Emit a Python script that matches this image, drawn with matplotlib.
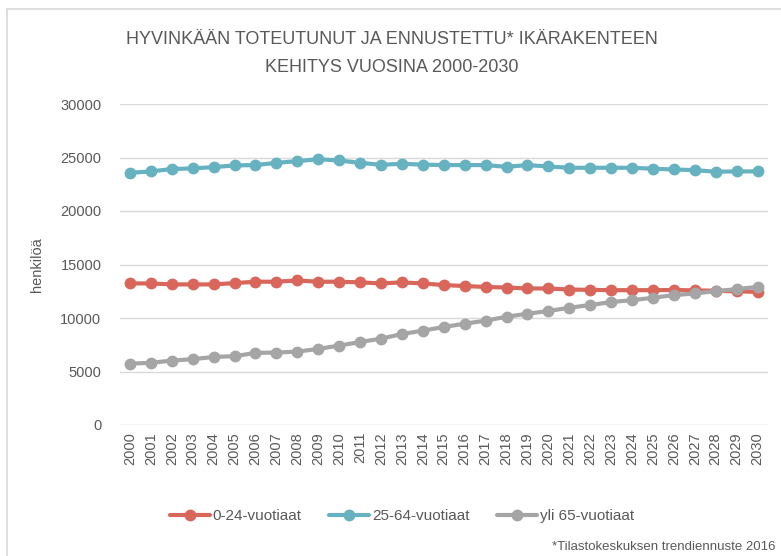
import matplotlib
matplotlib.use("Agg")
import matplotlib.pyplot as plt
from matplotlib.lines import Line2D

# vuodet ja ikäryhmät
vuodet = list(range(2000, 2031))
ika_0_24 = [13230, 13230, 13140, 13140, 13140, 13260, 13390, 13390, 13510, 13390,
            13390, 13330, 13230, 13330, 13230, 13080, 12990, 12900, 12850, 12760,
            12760, 12660, 12630, 12600, 12600, 12600, 12620, 12580, 12550, 12480,
            12450]
ika_25_64 = [23570, 23700, 23920, 23980, 24100, 24260, 24290, 24500, 24660, 24840,
             24720, 24500, 24320, 24410, 24330, 24290, 24290, 24290, 24130, 24290,
             24160, 24040, 24040, 24040, 24040, 23950, 23880, 23820, 23670, 23700,
             23700]
ika_yli_65 = [5740, 5810, 6020, 6150, 6360, 6430, 6740, 6770, 6860, 7110,
              7420, 7760, 8070, 8500, 8820, 9160, 9470, 9750, 10120, 10400,
              10650, 10960, 11210, 11490, 11670, 11890, 12140, 12290, 12510, 12700,
              12910]
sarjat = ["0-24-vuotiaat", "25-64-vuotiaat", "yli 65-vuotiaat"]
y_ticks = [0, 5000, 10000, 15000, 20000, 25000, 30000]

varit = ["#D9665B", "#67B2C1", "#A5A5A5"]
teksti = "#595959"
fontti = ["Liberation Sans", "DejaVu Sans"]

fig = plt.figure(figsize=(7.81, 5.56), dpi=100)
ax = fig.add_axes([119.5 / 781, 1 - 425 / 556, (768 - 119.5) / 781, (425 - 104) / 556])

x = list(range(len(vuodet)))
for data, vari, nimi in zip([ika_0_24, ika_25_64, ika_yli_65], varit, sarjat):
    ax.plot(x, data, color=vari, linewidth=3, marker="o", markersize=7.5,
            label=nimi, solid_capstyle="round")

ax.set_xlim(-0.5, len(vuodet) - 0.5)
ax.set_ylim(0, 30000)
ax.set_yticks(y_ticks)
ax.set_yticklabels([str(v) for v in y_ticks], family=fontti, fontsize=10.5, color=teksti)
ax.set_xticks(x)
ax.set_xticklabels([str(v) for v in vuodet], rotation=90, family=fontti,
                   fontsize=10.5, color=teksti)
ax.tick_params(axis="x", length=0, pad=5)
ax.tick_params(axis="y", length=0, pad=13)
ax.grid(axis="y", color="#D9D9D9", linewidth=1)
ax.set_axisbelow(True)
for s in ax.spines.values():
    s.set_visible(False)

fig.text(37 / 781, 1 - 265 / 556, "henkilöä", rotation=90, ha="center", va="center",
         family=fontti, fontsize=10.5, color=teksti)

fig.text(392 / 781, 1 - 40 / 556, "HYVINKÄÄN TOTEUTUNUT JA ENNUSTETTU* IKÄRAKENTEEN",
         ha="center", va="center", family=fontti, fontsize=13, color=teksti)
fig.text(392 / 781, 1 - 68 / 556, "KEHITYS VUOSINA 2000-2030",
         ha="center", va="center", family=fontti, fontsize=13, color=teksti)

fig.legend(loc="center", bbox_to_anchor=(402 / 781, 1 - 516 / 556), ncol=3, frameon=False,
           prop={"family": fontti, "size": 11}, labelcolor=teksti, handlelength=2.6,
           handletextpad=0.2, columnspacing=1.8)

fig.text(776 / 781, 1 - 547 / 556, "*Tilastokeskuksen trendiennuste 2016", ha="right", va="center",
         family=fontti, fontsize=9.5, color=teksti)

# kaavion kehys
fig.add_artist(Line2D([7 / 781, 7 / 781], [0, 1 - 9 / 556], color="#D9D9D9", linewidth=1.2,
                      transform=fig.transFigure))
fig.add_artist(Line2D([7 / 781, 1], [1 - 9 / 556, 1 - 9 / 556], color="#D9D9D9", linewidth=1.2,
                      transform=fig.transFigure))

fig.savefig("out.png", dpi=100)
